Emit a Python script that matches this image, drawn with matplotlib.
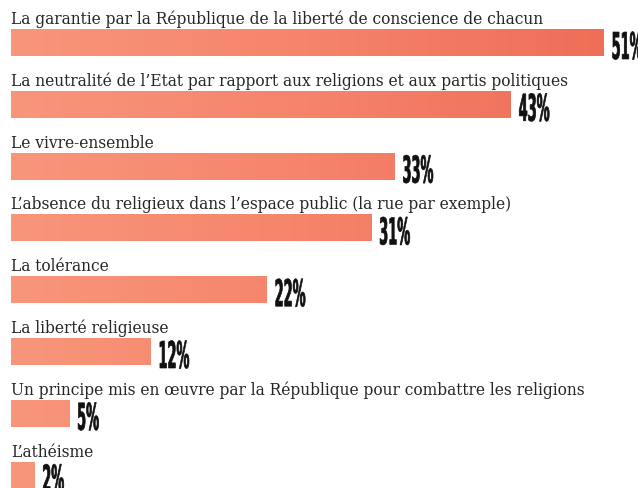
import numpy as np
import matplotlib
matplotlib.use("Agg")
import matplotlib.pyplot as plt
from matplotlib.colors import LinearSegmentedColormap
from matplotlib.textpath import TextPath
from matplotlib.patches import PathPatch
from matplotlib.font_manager import FontProperties
import matplotlib.transforms as mtransforms

labels = [
    "La garantie par la République de la liberté de conscience de chacun",
    "La neutralité de l\u2019Etat par rapport aux religions et aux partis politiques",
    "Le vivre-ensemble",
    "L\u2019absence du religieux dans l\u2019espace public (la rue par exemple)",
    "La tolérance",
    "La liberté religieuse",
    "Un principe mis en œuvre par la République pour combattre les religions",
    "L\u2019athéisme",
]
values = [51, 43, 33, 31, 22, 12, 5, 2]
pct_labels = ["51%", "43%", "33%", "31%", "22%", "12%", "5%", "2%"]

W, H = 638, 488
fig = plt.figure(figsize=(W / 100, H / 100), dpi=100)
ax = fig.add_axes([0, 0, 1, 1])
ax.set_axis_off()

px_per_pct = 11.62
row_px = 61.8
bar_h = 27 / row_px
xlim = (-11 / px_per_pct, (W - 11) / px_per_pct)
ylim = ((H - 42.5) / row_px, -42.5 / row_px)

cmap = LinearSegmentedColormap.from_list("salmon", ["#f8967b", "#f5846a", "#ef6e57"])
grad = np.linspace(0, 1, 256).reshape(1, -1)
vmax = max(values)

ypos = np.arange(len(values))
bars = ax.barh(ypos, values, height=bar_h, left=0, color="#f6866b", linewidth=0)
for bar, y in zip(bars, ypos):
    im = ax.imshow(grad, cmap=cmap, aspect="auto", interpolation="bilinear",
                   extent=[0, vmax, y + bar_h / 2, y - bar_h / 2], zorder=2)
    im.set_clip_path(bar)

for y, lab in zip(ypos, labels):
    ax.text(0, y - bar_h / 2 - 5 / row_px, lab, fontsize=11.2, family="DejaVu Serif",
            color="#262626", va="baseline", ha="left")

ax.set_xlim(*xlim)
ax.set_ylim(*ylim)

# condensed heavy percentage labels
prop = FontProperties(family="DejaVu Sans", weight="bold")
for y, v, s in zip(ypos, values, pct_labels):
    px, py = ax.transData.transform((v, y + bar_h / 2))
    tp = TextPath((0, 0), s, size=37, prop=prop)
    tr = mtransforms.Affine2D().scale(0.35, 1.0).translate(px + 8, py - 3)
    patch = PathPatch(tp, transform=tr, facecolor="#111111", edgecolor="#111111",
                      linewidth=0.5, clip_on=False)
    fig.patches.append(patch)
    patch.set_figure(fig)

fig.savefig("out.png", dpi=100, facecolor="white")
